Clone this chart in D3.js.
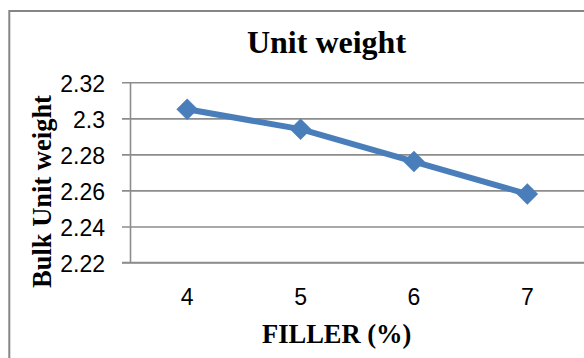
<!DOCTYPE html>
<html>
<head>
<meta charset="utf-8">
<script src="https://cdn.jsdelivr.net/npm/d3@7"></script>
<style>
  html, body { margin: 0; padding: 0; background: #fff; overflow: hidden; }
  svg { display: block; }
</style>
</head>
<body>
<svg id="chart" width="584" height="358"></svg>
<script>
// Bulk unit weight against filler content
const fillerPercent = ["4", "5", "6", "7"];
const unitWeight = [2.305, 2.294, 2.276, 2.258];
const yTicks = [2.22, 2.24, 2.26, 2.28, 2.3, 2.32];

const chartTitle = "Unit weight";
const xTitle = "FILLER (%)";
const yTitle = "Bulk Unit weight";

const W = 584, H = 358;
const plot = { left: 130.5, right: 584, top: 82.3, bottom: 262.5 };

const svg = d3.select("#chart");

// Chart frame (left and top edges)
svg.append("path")
  .attr("d", `M9.3,${H} V11 H${W}`)
  .attr("fill", "none")
  .attr("stroke", "#868686")
  .attr("stroke-width", 2);

const x = d3.scaleBand()
  .domain(fillerPercent)
  .range([plot.left, plot.right]);

const y = d3.scaleLinear()
  .domain([2.22, 2.32])
  .range([plot.bottom, plot.top]);

// Horizontal gridlines with left-side ticks
const yAxis = d3.axisLeft(y)
  .tickValues(yTicks)
  .tickFormat(d => d3.format("")(+d.toFixed(2)))
  .tickSize(-(plot.right - plot.left))
  .tickSizeOuter(0)
  .tickPadding(0);

const gy = svg.append("g")
  .attr("transform", `translate(${plot.left},0)`)
  .call(yAxis);
gy.select(".domain").remove();
gy.selectAll(".tick line")
  .attr("x1", -8.5)
  .attr("stroke", "#8c8c8c")
  .attr("stroke-width", 1.6);
gy.selectAll(".tick text")
  .attr("x", -25.5)
  .attr("dy", "0.4em")
  .attr("fill", "#000")
  .style("font-family", "'Liberation Sans', Arial, sans-serif")
  .style("font-size", "23px");

// Vertical axis line
svg.append("line")
  .attr("x1", plot.left).attr("x2", plot.left)
  .attr("y1", plot.top).attr("y2", plot.bottom)
  .attr("stroke", "#8c8c8c")
  .attr("stroke-width", 1.6);

// Category axis
const xAxis = d3.axisBottom(x).tickSize(0).tickPadding(0);
const gx = svg.append("g")
  .attr("transform", `translate(0,${plot.bottom})`)
  .call(xAxis);
gx.select(".domain")
  .attr("d", `M${plot.left - 8.5},0H${plot.right}`)
  .attr("stroke", "#8c8c8c")
  .attr("stroke-width", 1.6);
gx.selectAll(".tick text")
  .attr("y", 42.5)
  .attr("dy", 0)
  .attr("fill", "#000")
  .style("font-family", "'Liberation Sans', Arial, sans-serif")
  .style("font-size", "23px");

// Series line
const cx = d => x(d) + x.bandwidth() / 2;
const data = fillerPercent.map((c, i) => ({ c, v: unitWeight[i] }));

svg.append("path")
  .datum(data)
  .attr("fill", "none")
  .attr("stroke", "#4a7ebb")
  .attr("stroke-width", 6)
  .attr("stroke-linejoin", "round")
  .attr("d", d3.line().x(d => cx(d.c)).y(d => y(d.v)));

// Diamond markers
svg.append("g").selectAll("path")
  .data(data)
  .join("path")
  .attr("transform", d => `translate(${cx(d.c)},${y(d.v)})`)
  .attr("d", "M0,-10.5L10.5,0L0,10.5L-10.5,0Z")
  .attr("fill", "#4a7ebb")
  .attr("stroke", "#4a7ebb")
  .attr("stroke-width", 0.5);

// Titles
const serif = "'Liberation Serif', 'Times New Roman', serif";

svg.append("text")
  .attr("x", 326.5).attr("y", 53.3)
  .attr("text-anchor", "middle")
  .style("font-family", serif)
  .style("font-weight", "bold")
  .style("font-size", "32px")
  .text(chartTitle);

svg.append("text")
  .attr("x", 336.7).attr("y", 343)
  .attr("text-anchor", "middle")
  .style("font-family", serif)
  .style("font-weight", "bold")
  .style("font-size", "26.5px")
  .text(xTitle);

svg.append("text")
  .attr("transform", "translate(50.5,191.5) rotate(-90)")
  .attr("text-anchor", "middle")
  .style("font-family", serif)
  .style("font-weight", "bold")
  .style("font-size", "26.5px")
  .text(yTitle);
</script>
</body>
</html>
